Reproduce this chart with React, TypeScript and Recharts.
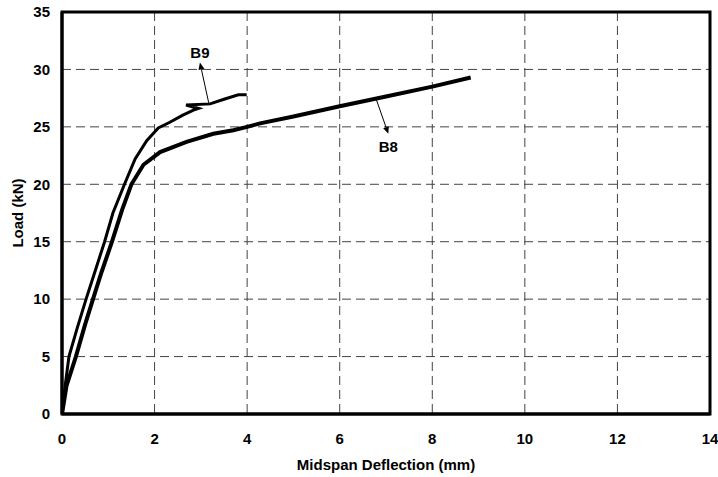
import {
  CartesianGrid,
  Label,
  Line,
  LineChart,
  ReferenceArea,
  ReferenceDot,
  ReferenceLine,
  XAxis,
  YAxis,
} from 'recharts';

const X_TICKS = [0, 2, 4, 6, 8, 10, 12, 14];
const Y_TICKS = [0, 5, 10, 15, 20, 25, 30, 35];

// midspan deflection (mm) / load (kN)
const B8_DEFL = [0, 0.1, 0.3, 0.5, 0.67, 0.85, 1.08, 1.3, 1.5, 1.76, 2.12, 2.69, 3.27, 3.7, 4.0, 4.28, 5, 6, 7, 8, 8.83];
const B8_LOAD = [0, 2.5, 5, 7.8, 10, 12.3, 15, 17.8, 20, 21.7, 22.8, 23.7, 24.4, 24.7, 25.0, 25.3, 25.9, 26.8, 27.65, 28.5, 29.3];

const B9_DEFL = [0, 0.07, 0.15, 0.33, 0.52, 0.72, 0.92, 1.1, 1.35, 1.58, 1.83, 2.08, 2.33, 2.6, 2.84, 2.95, 2.68, 3.2, 3.5, 3.81, 3.99];
const B9_LOAD = [0, 2.5, 5, 7.5, 10, 12.5, 15, 17.5, 20, 22.2, 23.8, 24.9, 25.4, 26.0, 26.45, 26.6, 26.9, 27.0, 27.4, 27.8, 27.8];

// annotation arrows: [fromX, fromY, toX, toY], label position
const B9_ARROW = [3.18, 26.9, 2.98, 30.6];
const B9_LABEL = [2.98, 31.5];
const B8_ARROW = [6.78, 27.5, 7.05, 24.4];
const B8_LABEL = [7.05, 23.3];

const b8 = B8_DEFL.map((x, i) => ({ x, y: B8_LOAD[i] }));
const b9 = B9_DEFL.map((x, i) => ({ x, y: B9_LOAD[i] }));

const FONT = "'Liberation Sans', Arial, sans-serif";
const textStyle = { fontSize: 15, fontWeight: 700, fill: '#000', fontFamily: FONT };

function Arrow(props: any) {
  const { x1, y1, x2, y2 } = props;
  if ([x1, y1, x2, y2].some((v) => typeof v !== 'number')) return null;
  const ang = Math.atan2(y2 - y1, x2 - x1);
  const len = 7;
  const w = 3;
  const bx = x2 - len * Math.cos(ang);
  const by = y2 - len * Math.sin(ang);
  const px = -Math.sin(ang) * w;
  const py = Math.cos(ang) * w;
  return (
    <g>
      <line x1={x1} y1={y1} x2={bx} y2={by} stroke="#000" strokeWidth={1} />
      <polygon points={`${x2},${y2} ${bx + px},${by + py} ${bx - px},${by - py}`} fill="#000" />
    </g>
  );
}

export default function App() {
  return (
    <div style={{ position: 'absolute', left: 0, top: 0, background: '#fff' }}>
      <LineChart width={718} height={477} margin={{ top: 12, right: 8, left: 0, bottom: 0 }}>
        <CartesianGrid stroke="#444" strokeDasharray="9 5" strokeWidth={1} />
        <XAxis
          type="number"
          dataKey="x"
          domain={[0, 14]}
          ticks={X_TICKS}
          height={63}
          tickLine={false}
          tickSize={4}
          tickMargin={15}
          axisLine={{ stroke: '#000', strokeWidth: 3 }}
          tick={textStyle}
          allowDataOverflow
        >
          <Label value="Midspan Deflection (mm)" position="insideBottom" offset={7} style={textStyle} />
        </XAxis>
        <YAxis
          type="number"
          dataKey="y"
          domain={[0, 35]}
          ticks={Y_TICKS}
          width={62}
          tickLine={false}
          tickSize={4}
          tickMargin={8}
          axisLine={{ stroke: '#000', strokeWidth: 3 }}
          tick={textStyle}
          allowDataOverflow
        >
          <Label
            content={() => (
              <text x={23} y={213} transform="rotate(-90 23 213)" textAnchor="middle" style={textStyle}>
                Load (kN)
              </text>
            )}
          />
        </YAxis>
        <ReferenceArea x1={0} x2={14} y1={0} y2={35} fill="none" stroke="#000" strokeWidth={3} ifOverflow="visible" />
        <Line data={b8} dataKey="y" type="linear" stroke="#000" strokeWidth={4} dot={false} isAnimationActive={false} />
        <Line data={b9} dataKey="y" type="linear" stroke="#000" strokeWidth={3} dot={false} isAnimationActive={false} />
        <ReferenceLine
          segment={[
            { x: B9_ARROW[0], y: B9_ARROW[1] },
            { x: B9_ARROW[2], y: B9_ARROW[3] },
          ]}
          shape={(p: any) => <Arrow {...p} />}
        />
        <ReferenceLine
          segment={[
            { x: B8_ARROW[0], y: B8_ARROW[1] },
            { x: B8_ARROW[2], y: B8_ARROW[3] },
          ]}
          shape={(p: any) => <Arrow {...p} />}
        />
        <ReferenceDot
          x={B9_LABEL[0]}
          y={B9_LABEL[1]}
          r={1}
          fill="none"
          stroke="none"
          label={{ value: 'B9', position: 'center', style: textStyle }}
        />
        <ReferenceDot
          x={B8_LABEL[0]}
          y={B8_LABEL[1]}
          r={1}
          fill="none"
          stroke="none"
          label={{ value: 'B8', position: 'center', style: textStyle }}
        />
      </LineChart>
    </div>
  );
}
